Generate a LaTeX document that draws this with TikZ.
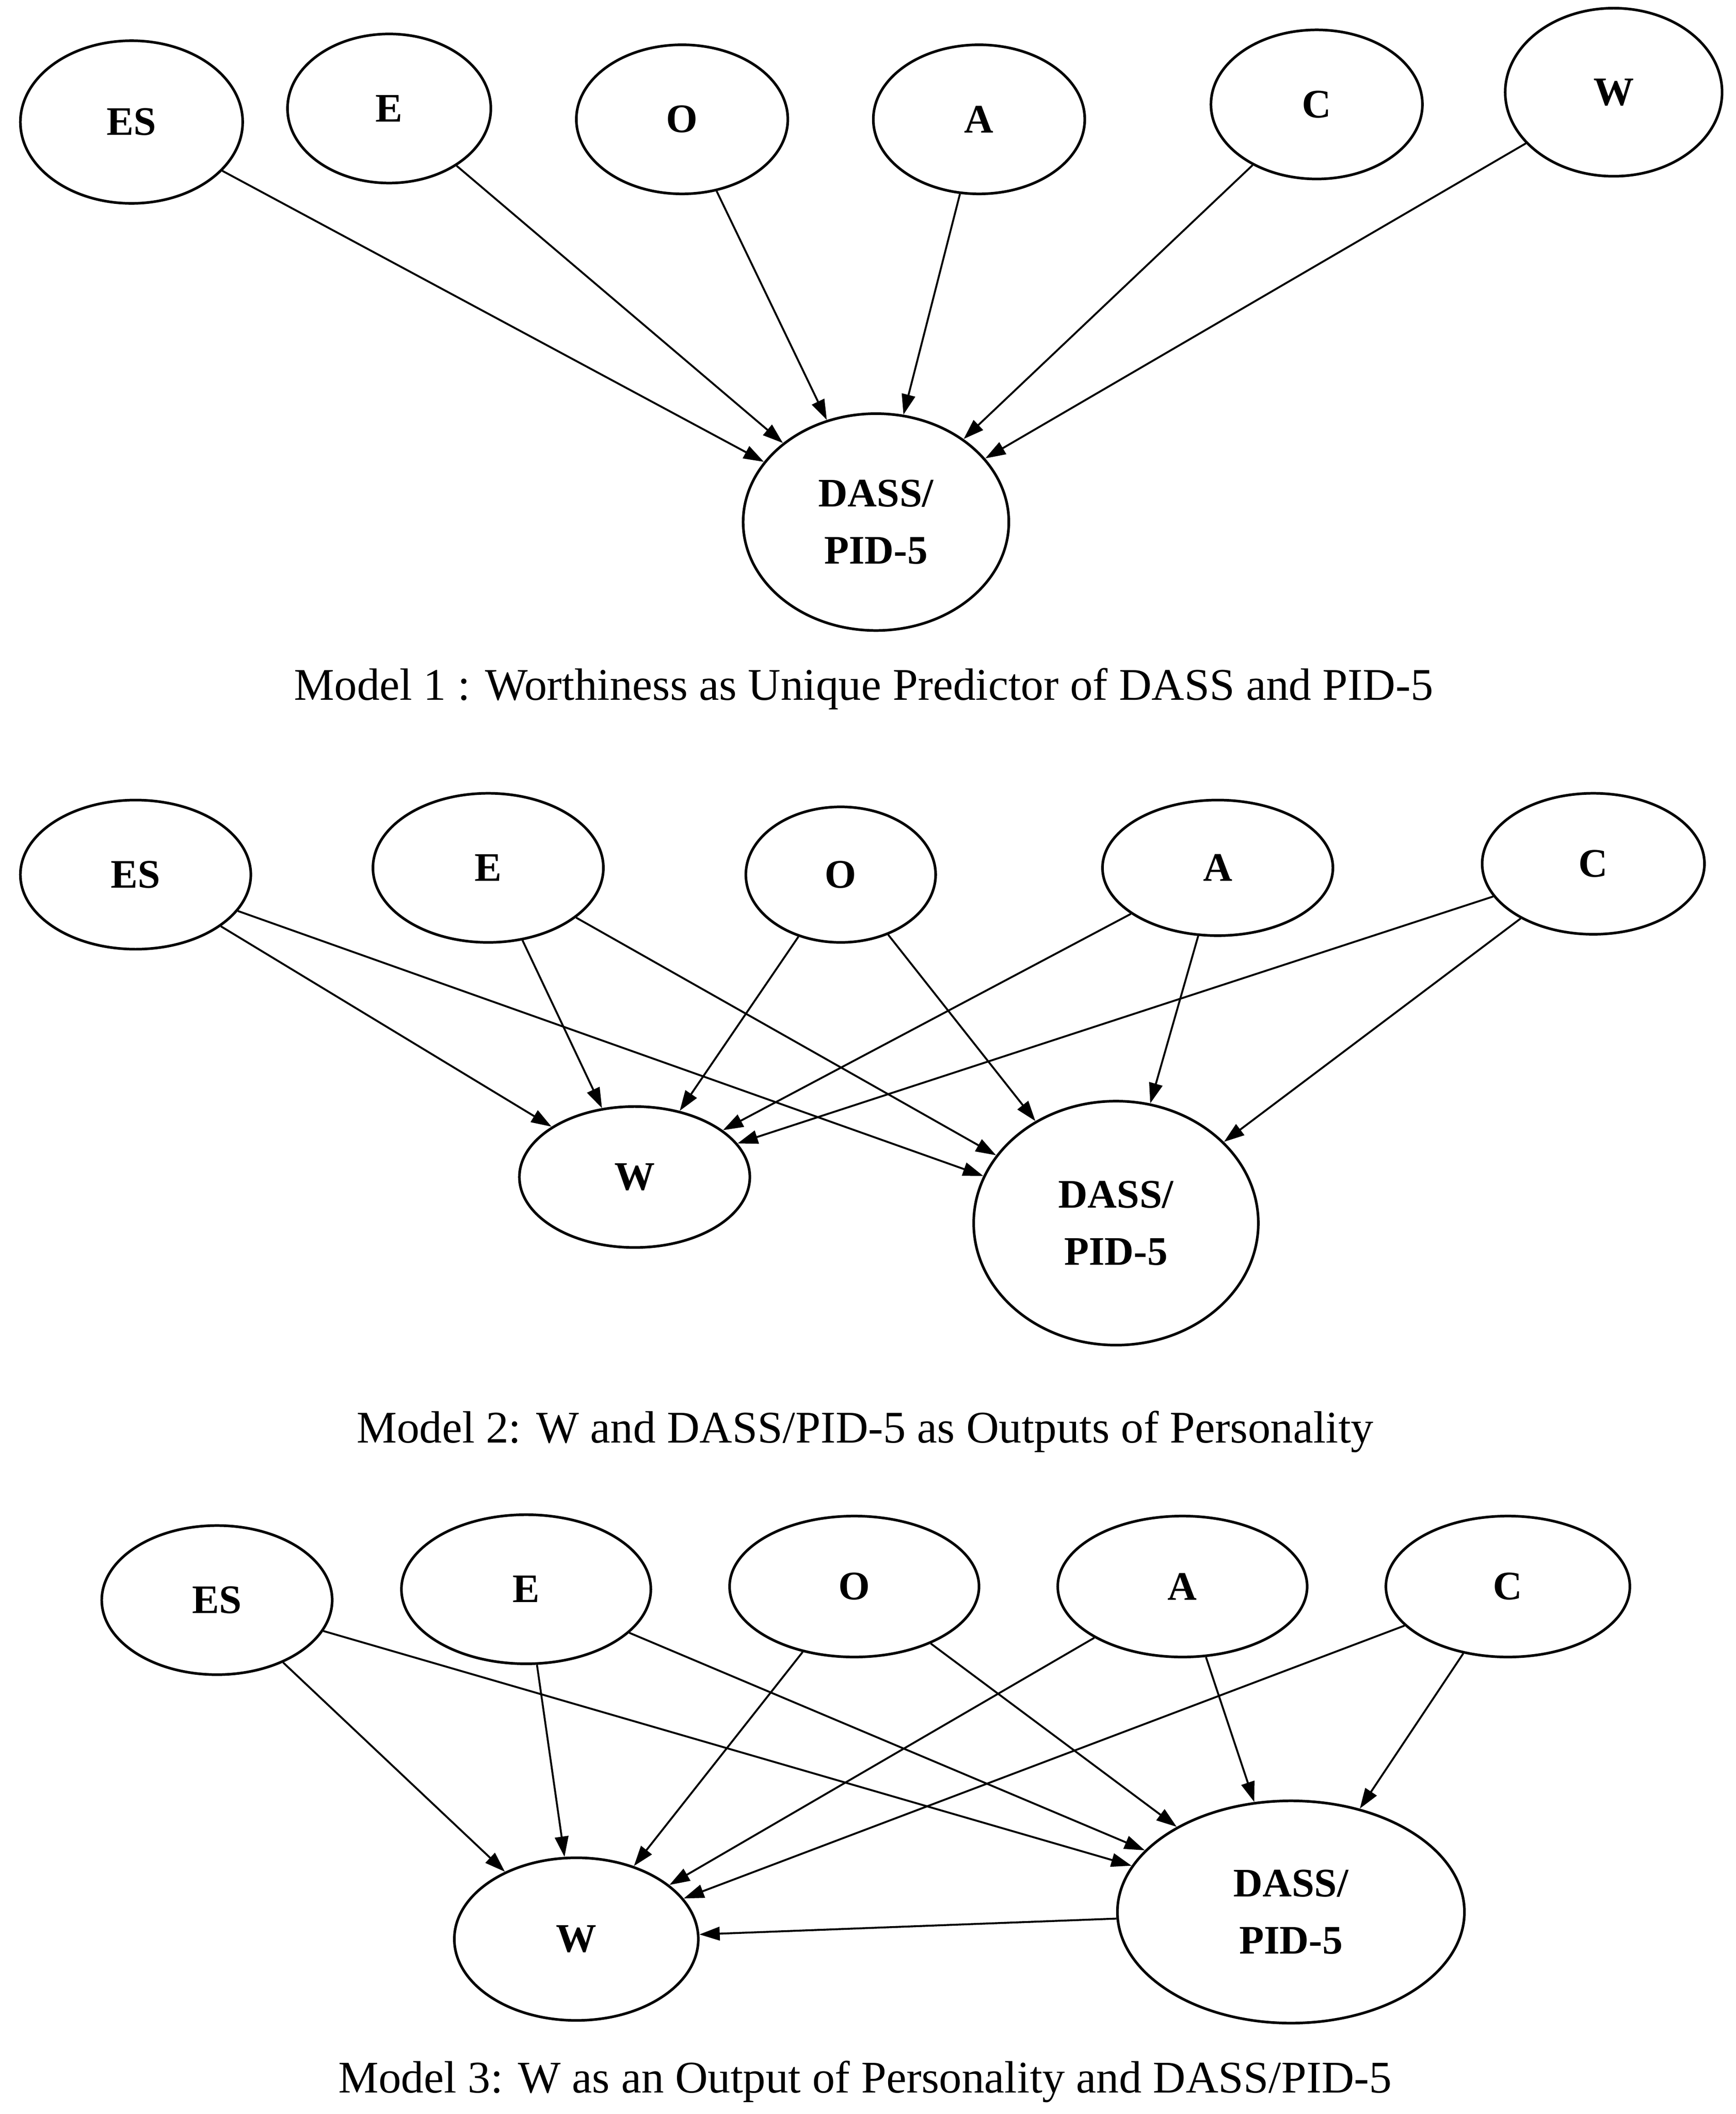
\documentclass[tikz,border=0pt]{standalone}
\usepackage{fontspec}
\setmainfont{Liberation Serif}
\usetikzlibrary{shapes.geometric,arrows.meta}
\begin{document}
\begin{tikzpicture}[x=0.02cm,y=-0.02cm,
  el/.style 2 args={ellipse,draw,line width=1.1pt,inner sep=0pt,minimum width={#1*0.04cm},minimum height={#2*0.04cm},font=\fontsize{17}{20}\selectfont\bfseries,align=center},
  ar/.style={line width=0.8pt,-{Triangle[length=0.3cm,width=0.2cm]}},
  captxt/.style={font=\fontsize{19}{22}\selectfont}]
\useasboundingbox (0,0) rectangle (1280,1559);
% Model 1
\node[el={82}{60}] (a1) at (97,90) {ES};
\node[el={75}{55}] (a2) at (287,80) {E};
\node[el={78}{55}] (a3) at (503,88) {O};
\node[el={78}{55}] (a4) at (722,88) {A};
\node[el={78}{55}] (a5) at (971,77) {C};
\node[el={80}{62}] (a6) at (1190,68) {W};
\node[el={98}{80}] (ad) at (646,385) {DASS/\\[4pt]PID-5};
\node[captxt] (c1) at (637,508) {Model 1 : Worthiness as Unique Predictor of DASS and PID-5};
\foreach \n in {a1,a2,a3,a4,a5,a6} \draw[ar] (\n) -- (ad);
% Model 2
\node[el={85}{55}] (b1) at (100,645) {ES};
\node[el={85}{55}] (b2) at (360,640) {E};
\node[el={70}{50}] (b3) at (620,645) {O};
\node[el={85}{50}] (b4) at (898,640) {A};
\node[el={82}{52}] (b5) at (1175,637) {C};
\node[el={85}{52}] (bw) at (468,868) {W};
\node[el={105}{90}] (bd) at (823,902) {DASS/\\[4pt]PID-5};
\node[captxt] (c2) at (638,1056) {Model 2: W and DASS/PID-5 as Outputs of Personality};
\foreach \n in {b1,b2,b3,b4,b5} {\draw[ar] (\n) -- (bw); \draw[ar] (\n) -- (bd);}
% Model 3
\node[el={85}{55}] (d1) at (160,1180) {ES};
\node[el={92}{55}] (d2) at (388,1172) {E};
\node[el={92}{52}] (d3) at (630,1170) {O};
\node[el={92}{52}] (d4) at (872,1170) {A};
\node[el={90}{52}] (d5) at (1112,1170) {C};
\node[el={90}{60}] (dw) at (425,1430) {W};
\node[el={128}{82}] (dd) at (952,1410) {DASS/\\[4pt]PID-5};
\node[captxt] (c3) at (638,1535) {Model 3: W as an Output of Personality and DASS/PID-5};
\foreach \n in {d1,d2,d3,d4,d5} {\draw[ar] (\n) -- (dw); \draw[ar] (\n) -- (dd);}
\draw[ar] (dd) -- (dw);
\end{tikzpicture}
\end{document}
